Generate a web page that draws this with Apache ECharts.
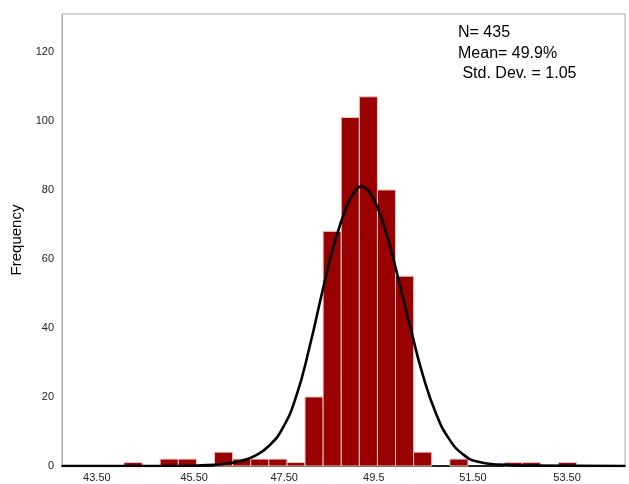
<!DOCTYPE html>
<html>
<head>
<meta charset="utf-8">
<script src="https://cdn.jsdelivr.net/npm/echarts@6/dist/echarts.min.js"></script>
<style>html,body{margin:0;padding:0;background:#fff}#c{width:629px;height:484px}</style>
</head>
<body>
<div id="c"></div>
<script>
// Histogram bins: start of each bin (width binWidth) and its frequency
const binWidth = 0.4;
const binStarts = [44.1,44.5,44.9,45.3,45.7,46.1,46.5,46.9,47.3,47.7,48.1,48.5,48.9,49.3,49.7,50.1,50.5,50.9,51.3,51.7,52.1,52.5,52.9,53.3,53.7];
const counts    = [1,0,2,2,0,4,2,2,2,1,20,68,101,107,80,55,4,0,2,0,0,1,1,0,1];
// Fitted normal curve
const curveX = [42.73,45.00,45.80,46.30,46.70,47.00,47.30,47.60,47.90,48.20,48.50,48.75,49.00,49.20,49.34,49.50,49.70,49.95,50.20,50.45,50.70,51.00,51.30,51.60,51.90,52.40,53.00,55.17];
const curveY = [0,0,0.2,0.6,1.5,3.0,5.8,10.8,20.0,34.5,51.5,64.5,74.5,79.5,81.0,79.8,75.0,65.0,52.2,39.0,26.5,15.0,7.5,3.3,1.3,0.4,0.1,0];
// X tick positions and labels
const xTickValues = [43.50,45.65,47.64,49.62,51.81,53.89];
const xTickLabels = ['43.50','45.50','47.50','49.5','51.50','53.50'];
const stats = ['N= 435','Mean= 49.9%',' Std. Dev. = 1.05'];

const chart = echarts.init(document.getElementById('c'), null, {renderer:'canvas'});
const barData = binStarts.map((s,i)=>[s, s+binWidth, counts[i]]);
const curveData = curveX.map((x,i)=>[x, curveY[i]]);
const FONT = '"Liberation Sans", Arial, sans-serif';

chart.setOption({
  animation:false,
  backgroundColor:'#fff',
  grid:{left:62, top:14, right:4, bottom:18, show:true, borderColor:'#a8a8a8', borderWidth:1},
  xAxis:{
    type:'value', min:42.73, max:55.17,
    axisLine:{show:true, onZero:false, lineStyle:{color:'#222', width:2}},
    axisTick:{show:false},
    splitLine:{show:false},
    axisLabel:{
      customValues:xTickValues,
      formatter:(v)=>{const i=xTickValues.findIndex(t=>Math.abs(t-v)<1e-6);return i>=0?xTickLabels[i]:'';},
      color:'#222', fontSize:11, fontFamily:FONT, margin:6
    }
  },
  yAxis:{
    type:'value', min:0, max:131, interval:20,
    name:'Frequency', nameLocation:'middle', nameGap:38, nameRotate:90,
    nameTextStyle:{color:'#000', fontSize:15, fontFamily:FONT},
    axisLine:{show:true, lineStyle:{color:'#a8a8a8', width:1}},
    axisTick:{show:false},
    splitLine:{show:false},
    axisLabel:{color:'#222', fontSize:11, fontFamily:FONT, margin:8,
      formatter:(v)=> v>120?'':String(v)}
  },
  series:[
    {
      type:'custom',
      data:barData,
      renderItem:(params, api)=>{
        const c = api.value(2);
        if(!c) return null;
        const p0 = api.coord([api.value(0), c]);
        const p1 = api.coord([api.value(1), 0]);
        return {type:'rect', shape:{x:p0[0], y:p0[1], width:p1[0]-p0[0], height:p1[1]-p0[1]},
          style:{fill:'#990000', stroke:'#e8c4c4', lineWidth:1}};
      },
      encode:{x:[0,1], y:2},
      z:2
    },
    {
      type:'line', data:curveData, smooth:true, showSymbol:false,
      lineStyle:{color:'#000', width:2.6}, z:3
    }
  ],
  graphic:stats.map((t,i)=>({
    type:'text', left:458, top:25+i*20.5,
    style:{text:t, fontSize:16, fontFamily:FONT, fill:'#000'}
  }))
});
</script>
</body>
</html>
